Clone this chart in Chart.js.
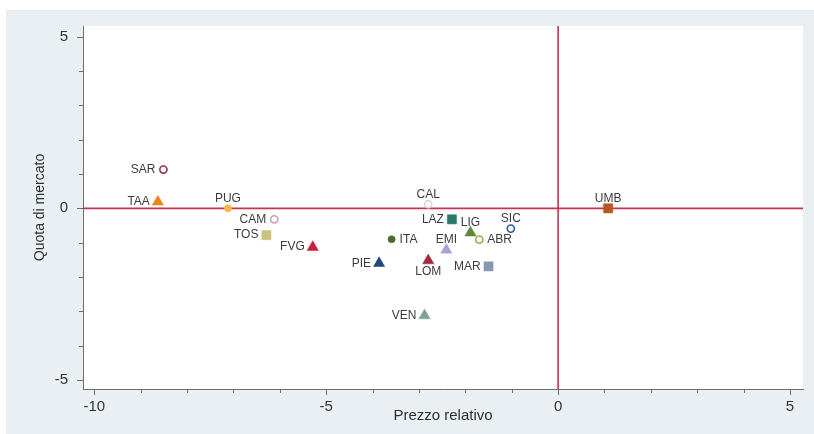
<!DOCTYPE html>
<html>
<head>
<meta charset="utf-8">
<script src="https://cdn.jsdelivr.net/npm/chart.js@4.4.1/dist/chart.umd.min.js"></script>
<style>
  html, body { margin: 0; padding: 0; background: #ffffff; }
  #wrap { width: 814px; height: 434px; }
</style>
</head>
<body>
<div id="wrap"><canvas id="c" width="814" height="434"></canvas></div>
<script>
// Regions: relative price (x) vs market share (y)
const regions = ['SAR','TAA','PUG','CAM','TOS','FVG','ITA','PIE','CAL','LAZ','LIG','SIC','ABR','EMI','LOM','MAR','VEN','UMB'];
const prezzoRelativo = [-8.51,-8.63,-7.12,-6.12,-6.29,-5.29,-3.59,-3.86,-2.80,-2.29,-1.89,-1.02,-1.70,-2.41,-2.80,-1.50,-2.88,1.08];
const quotaMercato   = [1.13,0.19,0.00,-0.32,-0.78,-1.13,-0.90,-1.60,0.12,-0.32,-0.71,-0.59,-0.91,-1.21,-1.52,-1.69,-3.12,0.00];
const labelPlacement = ['left','left','above','left','left','left','right','left','above','left','above','above','right','above','below','left','left','above'];
const markerShape = ['circle','triangle','circle','circle','rect','triangle','circle','triangle','circle','rect','triangle','circle','circle','triangle','triangle','rect','triangle','rect'];
const markerHollow = [true,false,false,true,false,false,false,false,true,false,false,true,true,false,false,false,false,false];
const markerColor = ['#9e3040','#e8861e','#f2b84a','#c9a3b4','#c9c27c','#c8203e','#4a6b2c','#1f4a78','#d6d6d6','#2a7868','#5a8a3a','#2c5a98','#a8a64e','#a9a2da','#a22a3a','#8898b2','#7fa298','#b85620'];
const xTickLabels = [-10, -5, 0, 5];
const yTickLabels = [-5, 0, 5];

const FONT = '"Liberation Sans", Arial, sans-serif';

const pointRadius = markerShape.map(s => s === 'triangle' ? 6.5 : (s === 'rect' ? 6.5 : 3.6));

const backgroundPlugin = {
  id: 'stataBackground',
  beforeDraw(chart) {
    const ctx = chart.ctx;
    const a = chart.chartArea;
    ctx.save();
    ctx.fillStyle = '#ffffff';
    ctx.fillRect(0, 0, chart.width, chart.height);
    ctx.fillStyle = '#e9eff2';
    ctx.fillRect(6, 10, chart.width - 6, chart.height - 10);
    ctx.fillStyle = '#ffffff';
    ctx.fillRect(a.left, a.top, a.right - a.left, a.bottom - a.top);
    ctx.restore();
  }
};

const refLinesPlugin = {
  id: 'refLines',
  beforeDatasetsDraw(chart) {
    const ctx = chart.ctx;
    const a = chart.chartArea;
    const x0 = chart.scales.x.getPixelForValue(0);
    const y0 = chart.scales.y.getPixelForValue(0);
    ctx.save();
    ctx.strokeStyle = '#c43452';
    ctx.lineWidth = 1.6;
    ctx.beginPath();
    ctx.moveTo(a.left, y0); ctx.lineTo(a.right, y0);
    ctx.moveTo(x0, a.top); ctx.lineTo(x0, a.bottom);
    ctx.stroke();
    ctx.restore();
  }
};

const tickMarksPlugin = {
  id: 'tickMarks',
  afterDraw(chart) {
    const ctx = chart.ctx;
    const a = chart.chartArea;
    const sx = chart.scales.x, sy = chart.scales.y;
    ctx.save();
    ctx.strokeStyle = '#6e6e6e';
    ctx.lineWidth = 1;
    ctx.beginPath();
    sx.ticks.forEach(t => {
      const px = Math.round(sx.getPixelForValue(t.value)) + 0.5;
      const len = xTickLabels.includes(t.value) ? 6 : 4;
      ctx.moveTo(px, a.bottom); ctx.lineTo(px, a.bottom + len);
    });
    sy.ticks.forEach(t => {
      const py = Math.round(sy.getPixelForValue(t.value)) + 0.5;
      const len = yTickLabels.includes(t.value) ? 6 : 4;
      ctx.moveTo(a.left, py); ctx.lineTo(a.left - len, py);
    });
    ctx.stroke();
    ctx.restore();
  }
};

const pointLabelsPlugin = {
  id: 'pointLabels',
  afterDatasetsDraw(chart) {
    const ctx = chart.ctx;
    const sx = chart.scales.x, sy = chart.scales.y;
    ctx.save();
    ctx.font = '12px ' + FONT;
    ctx.fillStyle = '#3c3c3c';
    regions.forEach((name, i) => {
      const px = sx.getPixelForValue(prezzoRelativo[i]);
      const py = sy.getPixelForValue(quotaMercato[i]);
      const pos = labelPlacement[i];
      if (pos === 'left') {
        ctx.textAlign = 'right'; ctx.textBaseline = 'middle';
        ctx.fillText(name, px - 8, py);
      } else if (pos === 'right') {
        ctx.textAlign = 'left'; ctx.textBaseline = 'middle';
        ctx.fillText(name, px + 8, py);
      } else if (pos === 'above') {
        ctx.textAlign = 'center'; ctx.textBaseline = 'middle';
        ctx.fillText(name, px, py - 10);
      } else {
        ctx.textAlign = 'center'; ctx.textBaseline = 'middle';
        ctx.fillText(name, px, py + 11);
      }
    });
    ctx.restore();
  }
};

new Chart(document.getElementById('c'), {
  type: 'scatter',
  data: {
    datasets: [{
      data: regions.map((r, i) => ({ x: prezzoRelativo[i], y: quotaMercato[i] })),
      pointStyle: markerShape,
      pointRadius: pointRadius,
      pointHoverRadius: pointRadius,
      backgroundColor: markerColor.map((c, i) => markerHollow[i] ? '#ffffff' : c),
      borderColor: markerColor,
      borderWidth: markerHollow.map(h => h ? 1.6 : 0.5)
    }]
  },
  options: {
    responsive: false,
    animation: false,
    layout: { padding: { top: 26, right: 11, left: 0, bottom: 0 } },
    plugins: {
      legend: { display: false },
      tooltip: { enabled: false }
    },
    scales: {
      x: {
        type: 'linear',
        min: -10.244,
        max: 5.28,
        afterBuildTicks(scale) {
          const t = [];
          for (let v = -10; v <= 5; v++) t.push({ value: v });
          scale.ticks = t;
        },
        afterFit(scale) { scale.height = 45; },
        border: { display: true, color: '#6e6e6e', width: 1 },
        grid: { display: false, drawTicks: true, tickLength: 6 },
        ticks: {
          autoSkip: false,
          maxRotation: 0,
          padding: 3,
          color: '#333333',
          font: { family: FONT, size: 15 },
          callback: v => xTickLabels.includes(v) ? String(v) : ''
        },
        title: {
          display: true,
          text: 'Prezzo relativo',
          color: '#2e2e2e',
          font: { family: FONT, size: 15 },
          padding: { top: 0, bottom: 9 }
        }
      },
      y: {
        type: 'linear',
        min: -5.26,
        max: 5.31,
        afterBuildTicks(scale) {
          const t = [];
          for (let v = -5; v <= 5; v++) t.push({ value: v });
          scale.ticks = t;
        },
        afterFit(scale) { scale.width = 83; },
        border: { display: true, color: '#6e6e6e', width: 1 },
        grid: { display: false, drawTicks: true, tickLength: 6 },
        ticks: {
          autoSkip: false,
          padding: 9,
          color: '#333333',
          font: { family: FONT, size: 15 },
          callback: v => yTickLabels.includes(v) ? String(v) : ''
        },
        title: {
          display: true,
          text: 'Quota di mercato',
          color: '#2e2e2e',
          font: { family: FONT, size: 14 },
          padding: { top: 32, bottom: 0 }
        }
      }
    }
  },
  plugins: [backgroundPlugin, refLinesPlugin, tickMarksPlugin, pointLabelsPlugin]
});
</script>
</body>
</html>
